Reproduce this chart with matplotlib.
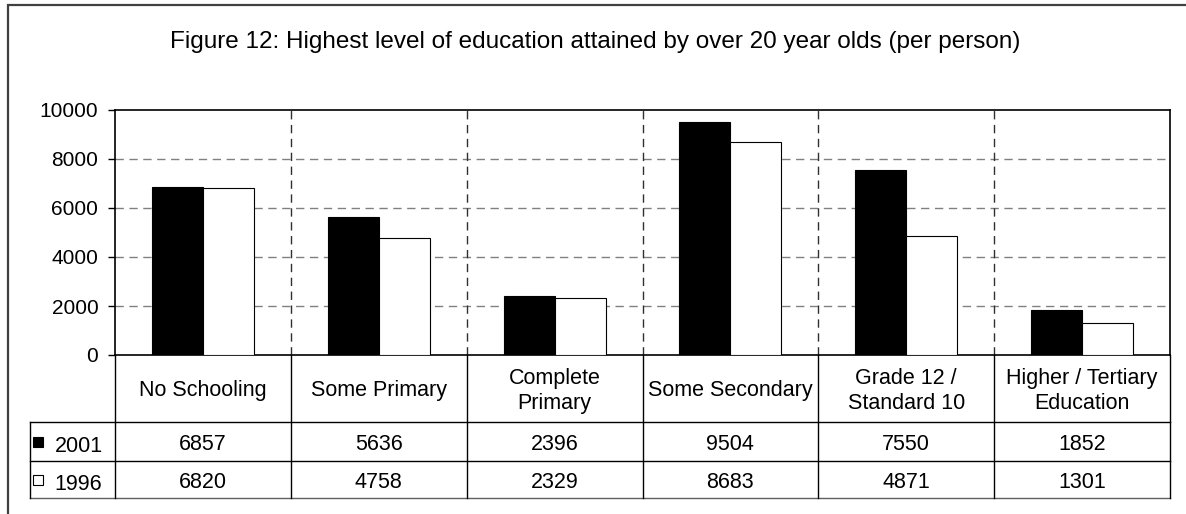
import numpy as np
import matplotlib
matplotlib.use("Agg")
import matplotlib.pyplot as plt
from matplotlib.lines import Line2D
from matplotlib.patches import Rectangle

plt.rcParams['font.family'] = ['Liberation Sans', 'DejaVu Sans']

categories = ["No Schooling", "Some Primary", "Complete\nPrimary", "Some Secondary",
              "Grade 12 /\nStandard 10", "Higher / Tertiary\nEducation"]
series_names = ["2001", "1996"]
vals_2001 = [6857, 5636, 2396, 9504, 7550, 1852]
vals_1996 = [6820, 4758, 2329, 8683, 4871, 1301]
yticks = [0, 2000, 4000, 6000, 8000, 10000]

W, H = 1186, 514
fig = plt.figure(figsize=(W / 100, H / 100), dpi=100)

def fx(px):
    return px / W

def fy(py):
    return 1 - py / H

# plot area in pixels
left, right, top, bottom = 115, 1170, 110, 355
ax = fig.add_axes([fx(left), fy(bottom), fx(right - left), (bottom - top) / H])

x = np.arange(len(categories))
bw = 0.29
ax.bar(x - bw / 2, vals_2001, bw, color='black', edgecolor='black', linewidth=0.8, zorder=3)
ax.bar(x + bw / 2, vals_1996, bw, color='white', edgecolor='black', linewidth=0.8, zorder=3)

ax.set_xlim(-0.5, len(categories) - 0.5)
ax.set_ylim(0, 10000)
ax.set_yticks(yticks)
ax.set_yticklabels([str(v) for v in yticks], fontsize=15)
ax.tick_params(axis='y', direction='out', length=5, width=1, pad=7)
ax.set_xticks([])

for v in yticks[1:-1]:
    ax.axhline(v, color='#808080', linewidth=1, dashes=(6, 4), zorder=1)
for b in np.arange(0.5, len(categories) - 0.5, 1):
    ax.axvline(b, color='#303030', linewidth=1, dashes=(6, 4), zorder=1)

for s in ax.spines.values():
    s.set_linewidth(1.2)
    s.set_color('black')

# data table below the plot, x in data units, y in axes units
tr = ax.get_xaxis_transform()
h_px = bottom - top
y_head = -(422 - bottom) / h_px
y_r1 = -(461 - bottom) / h_px
y_r2 = -(498 - bottom) / h_px
x_leg = -0.5 - (left - 30) / ((right - left) / len(categories))
x_end = len(categories) - 0.5

def hline(x0, x1, y, color='black'):
    ax.add_line(Line2D([x0, x1], [y, y], transform=tr, color=color, linewidth=1, clip_on=False))

def vline(xx, y0, y1):
    ax.add_line(Line2D([xx, xx], [y0, y1], transform=tr, color='black', linewidth=1, clip_on=False))

hline(x_leg, x_end, y_head)
hline(x_leg, x_end, y_r1)
hline(x_leg, x_end, y_r2, color='#606060')
for b in np.arange(-0.5, len(categories), 1):
    vline(b, 0, y_r2)
vline(x_leg, y_head, y_r2)

shift = 3 / h_px
for i, c in enumerate(categories):
    ax.text(i, (0 + y_head) / 2 - 0.01, c, transform=tr, ha='center', va='center',
            fontsize=15.5, linespacing=1.2, clip_on=False)
    ax.text(i, (y_head + y_r1) / 2 - shift, str(vals_2001[i]), transform=tr, ha='center',
            va='center', fontsize=15.5, clip_on=False)
    ax.text(i, (y_r1 + y_r2) / 2 - shift, str(vals_1996[i]), transform=tr, ha='center',
            va='center', fontsize=15.5, clip_on=False)

# legend keys in the first column
for yc, name, fc in [((y_head + y_r1) / 2, series_names[0], 'black'),
                     ((y_r1 + y_r2) / 2, series_names[1], 'white')]:
    ax.plot([x_leg + 0.045], [yc], transform=tr, marker='s', markersize=7,
            markerfacecolor=fc, markeredgecolor='black', markeredgewidth=0.8,
            clip_on=False, linestyle='none')
    ax.text(x_leg + 0.14, yc - 0.02, name, transform=tr, ha='left', va='center',
            fontsize=15.5, clip_on=False)

# title
fig.text(fx(595), fy(48), "Figure 12: Highest level of education attained by over 20 year olds (per person)",
         ha='center', va='baseline', fontsize=17.5)

# outer chart border (right and bottom fall outside the image)
fig.add_artist(Rectangle((fx(8), fy(H + 20)), fx(W + 20), (H + 20 - 5) / H,
                         transform=fig.transFigure, fill=False, edgecolor='#404040',
                         linewidth=1.6))

fig.savefig("out.png", dpi=100)
